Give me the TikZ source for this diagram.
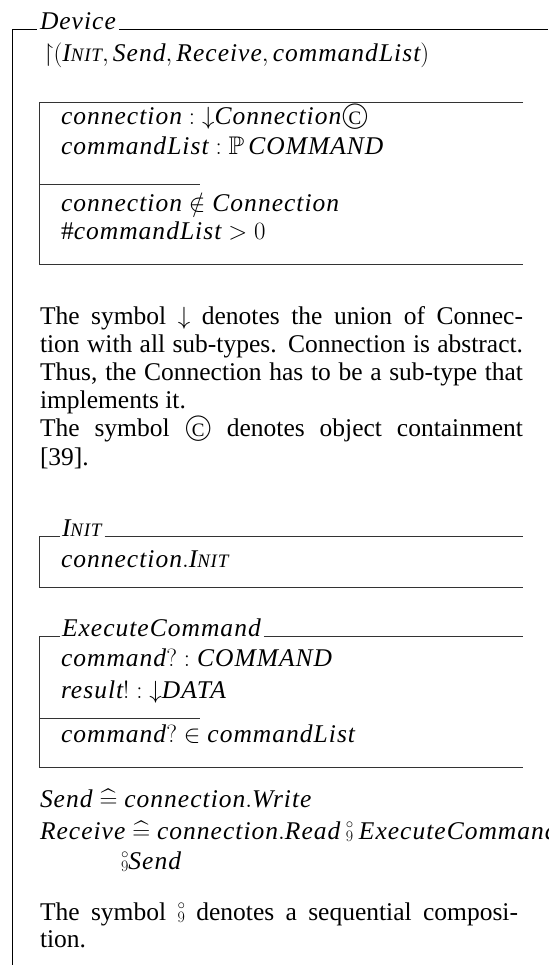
\documentclass[tikz,border=0pt]{standalone}
\usepackage{amssymb}
\usepackage{graphicx}
\usepackage{fontspec}
\setmainfont{Liberation Serif}
\newfontfamily\zitfam{Liberation Serif}[LetterSpace=4]
\newcommand{\zsemi}{\mathbin{\mbox{\ooalign{\hfil\raisebox{10.2pt}{\scalebox{0.6}{$\circ$}}\hfil\cr\hfil\raisebox{-2.5pt}{\scalebox{0.64}{$9$}}\hfil\cr}}}}
\newcommand{\zcont}{\mbox{\ooalign{\hfil\raisebox{1.8pt}{\scalebox{1.1}{$\bigcirc$}}\hfil\cr\hfil\raisebox{0.8pt}{\fontsize{19}{19}\selectfont C}\hfil\cr}}}
\newcommand{\zi}[1]{\mbox{\zitfam\itshape #1}}
\newcommand{\zinit}{\mbox{\zitfam\itshape I\fontsize{19}{19}\selectfont NIT}}
\newcommand{\zdef}{\mathrel{\widehat{=}}}
\begin{document}
\begin{tikzpicture}[x=1pt,y=-1pt,
  zt/.style={anchor=base west, inner sep=0pt, outer sep=0pt, font=\fontsize{25.5}{28}\selectfont},
  zl/.style={line width=0.9pt, draw=black!80},
  ol/.style={line width=1pt, draw=black}]
\useasboundingbox (0,0) rectangle (548,965);
\fill[white] (0,0) rectangle (548,965);
\clip (0,0) rectangle (548,965);
% outer class schema
\node[zt] (dev) at (40,30) {\zi{Device}};
\coordinate (obot) at (12,965);
\coordinate (ocor) at (12,30);
\coordinate (oend) at (548,30);
\draw[ol] (obot) -- (ocor) -- ([xshift=-3pt]dev.base west);
\draw[ol] ([xshift=3pt]dev.base east) -- (oend);
\node[zt] (vis) at (43,62) {$\mathord{\upharpoonright}(\zinit, \zi{Send}, \zi{Receive}, \zi{commandList})$};
% state schema
\coordinate (s1tr) at (523,102);
\coordinate (s1tl) at (39,102);
\coordinate (s1bl) at (39,264);
\coordinate (s1br) at (523,264);
\coordinate (s1dl) at (39,184);
\coordinate (s1dr) at (200,184);
\draw[zl] (s1tr) -- (s1tl) -- (s1bl) -- (s1br);
\draw[zl] (s1dl) -- (s1dr);
\node[zt] (s1a) at (61,125) {$\zi{connection} : {\downarrow}\zi{Connection}\zcont$};
\node[zt] (s1b) at (61,155) {$\zi{commandList} : \mathbb{P}\,\zi{COMMAND}$};
\node[zt] (s1c) at (61,212) {$\zi{connection} \notin \zi{Connection}$};
\node[zt] (s1d) at (61,240) {$\#\zi{commandList} > 0$};
% paragraph 1
\node[zt] (p1) at (40,324) {\makebox[483pt][s]{The symbol $\downarrow$ denotes the union of Connec-}};
\node[zt] (p2) at (40,352.2) {\makebox[483pt][s]{tion with all sub-types. Connection is abstract.}};
\node[zt] (p3) at (40,380.4) {\makebox[483pt][s]{Thus, the Connection has to be a sub-type that}};
\node[zt] (p4) at (40,408.6) {implements it.};
\node[zt] (p5) at (40,436.8) {\makebox[483pt][s]{The symbol \zcont{} denotes object containment}};
\node[zt] (p6) at (40,465) {[39].};
% INIT schema
\node[zt] (ti) at (62,536) {\zinit};
\coordinate (itl) at (39,536);
\coordinate (ibl) at (39,587);
\coordinate (ibr) at (523,587);
\coordinate (itr) at (523,536);
\draw[zl] ([xshift=-2pt]ti.base west) -- (itl) -- (ibl) -- (ibr);
\draw[zl] ([xshift=3pt]ti.base east) -- (itr);
\node[zt] (i1) at (61,567) {$\zi{connection}.\zinit$};
% ExecuteCommand schema
\node[zt] (te) at (62,636) {\zi{ExecuteCommand}};
\coordinate (etl) at (39,636);
\coordinate (ebl) at (39,767);
\coordinate (ebr) at (523,767);
\coordinate (etr) at (523,636);
\coordinate (edl) at (39,718);
\coordinate (edr) at (200,718);
\draw[zl] ([xshift=-2pt]te.base west) -- (etl) -- (ebl) -- (ebr);
\draw[zl] ([xshift=3pt]te.base east) -- (etr);
\draw[zl] (edl) -- (edr);
\node[zt] (e1) at (61,666) {$\zi{command}? : \zi{COMMAND}$};
\node[zt] (e2) at (61,698) {$\zi{result}! : {\downarrow}\zi{DATA}$};
\node[zt] (e3) at (61,742) {$\zi{command}? \in \zi{commandList}$};
% operations
\node[zt] (o1) at (40,807) {$\zi{Send} \zdef \zi{connection}.\zi{Write}$};
\node[zt] (o2) at (40,839) {$\zi{Receive} \zdef \zi{connection}.\zi{Read} \zsemi \zi{ExecuteCommand}$};
\node[zt] (o3) at (121,869) {$\zsemi\zi{Send}$};
% paragraph 2
\node[zt] (q1) at (40,920) {\makebox[478pt][s]{The symbol $\zsemi$ denotes a sequential composi-}};
\node[zt] (q2) at (40,947) {tion.};
\end{tikzpicture}
\end{document}
